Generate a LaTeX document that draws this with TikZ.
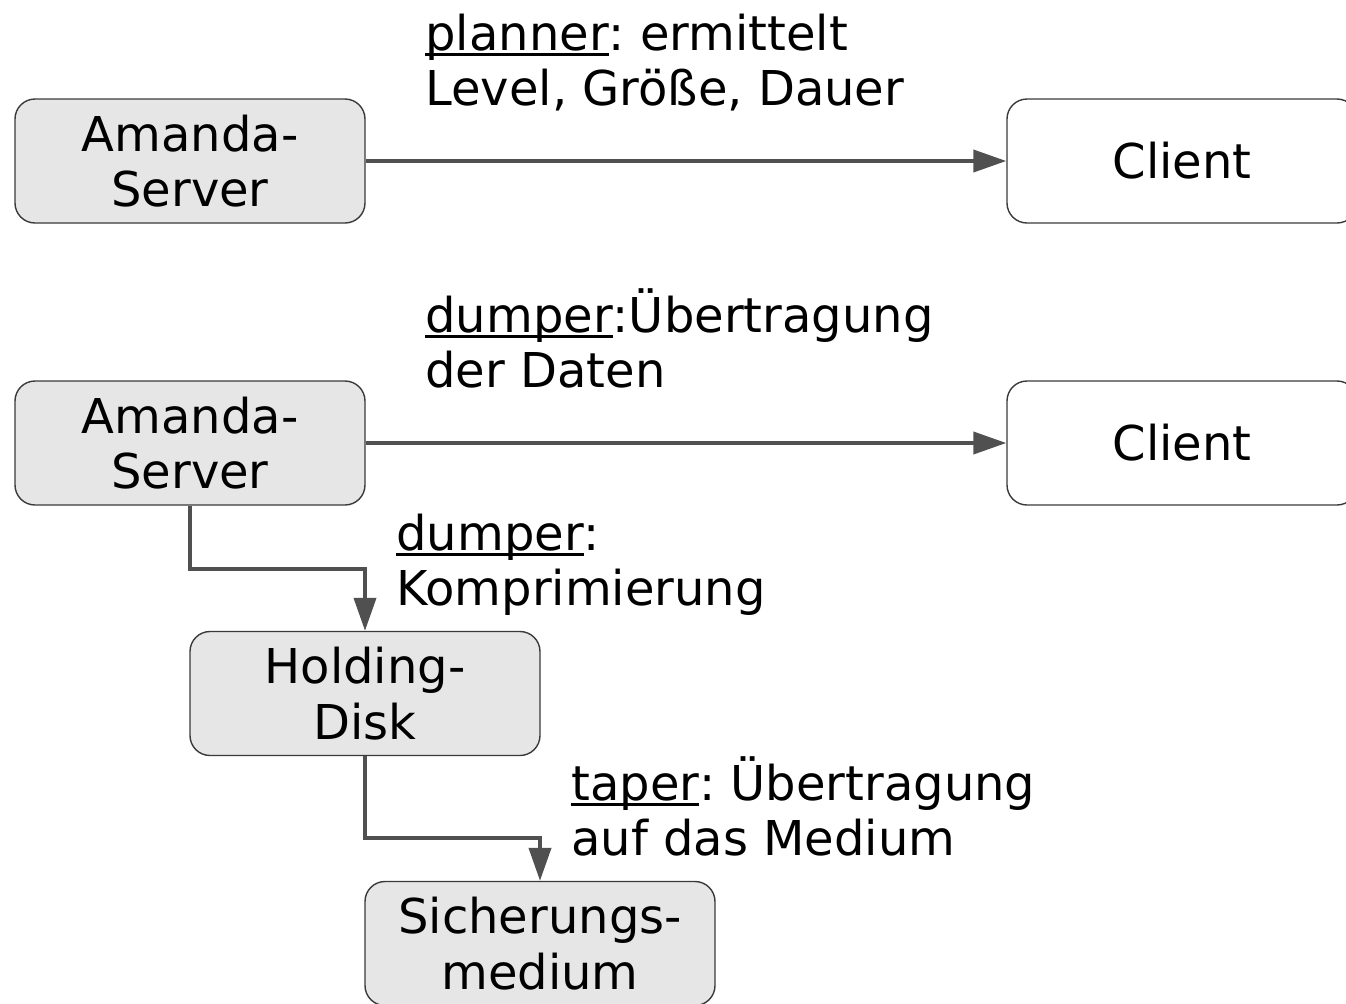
\documentclass[tikz,border=0pt]{standalone}
\usepackage{fontspec}
\setmainfont{DejaVu Sans}
\usetikzlibrary{arrows.meta}
\definecolor{boxfill}{HTML}{E6E6E6}
\definecolor{boxline}{HTML}{3A3A3A}
\definecolor{conn}{HTML}{505050}
\newcommand\myul[1]{\setbox0\hbox{#1}\rlap{\rule[-2.9pt]{\wd0}{1.2pt}}\box0}
\frenchspacing
\begin{document}
\begin{tikzpicture}[x=0.5pt,y=-0.5pt,
  every node/.style={font=\fontsize{24pt}{27.9pt}\selectfont\frenchspacing},
  box/.style={draw=boxline, line width=0.7pt, rounded corners=10pt, fill=boxfill,
    minimum width=175pt, minimum height=62pt, align=center, inner sep=0pt},
  whitebox/.style={box, fill=white},
  lbl/.style={anchor=base west, inner sep=0pt},
  conn/.style={draw=conn, line width=2pt, -{Triangle[length=16.5pt,width=11pt]}}]
\useasboundingbox (0,0) rectangle (1346,1003);
\clip (0,0) rectangle (1346,1003);
% boxes
\node[box] (s1) at (190,161) {Amanda-\\Server};
\node[whitebox] (c1) at (1182,161) {Client};
\node[box] (s2) at (190,443) {Amanda-\\Server};
\node[whitebox] (c2) at (1182,443) {Client};
\node[box] (hd) at (365,693.5) {Holding-\\Disk};
\node[box] (sm) at (540,943.5) {Sicherungs-\\medium};
% labels
\node[lbl] (l1) at (425,50) {\begin{tabular}[t]{@{}l@{}}\myul{planner}: ermittelt\\Level, Größe, Dauer\end{tabular}};
\node[lbl] (l2) at (425,332) {\begin{tabular}[t]{@{}l@{}}\myul{dumper}:Übertragung\\der Daten\end{tabular}};
\node[lbl] (l3) at (396,550) {\begin{tabular}[t]{@{}l@{}}\myul{dumper}:\\Komprimierung\end{tabular}};
\node[lbl] (l4) at (571,800) {\begin{tabular}[t]{@{}l@{}}\myul{taper}: Übertragung\\auf das Medium\end{tabular}};
% connectors
\draw[conn] (s1.east) -- (c1.west);
\draw[conn] (s2.east) -- (c2.west);
\draw[conn] (s2.south) -- ++(0,63) -| (hd.north);
\draw[conn] (hd.south) -- ++(0,82) -| (sm.north);
\end{tikzpicture}
\end{document}
